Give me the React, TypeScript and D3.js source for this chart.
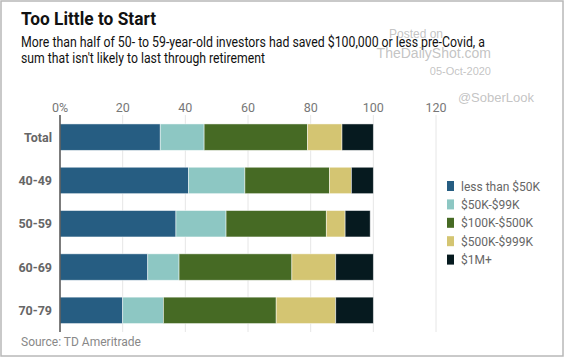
import React from "react";
import * as d3 from "d3";

const categories = ["Total", "40-49", "50-59", "60-69", "70-79"];
const seriesNames = ["less than $50K", "$50K-$99K", "$100K-$500K", "$500K-$999K", "$1M+"];
const lessThan50K = [32, 41, 37, 28, 20];
const k50to99 = [14, 18, 16, 10, 13];
const k100to500 = [33, 27, 32, 36, 36];
const k500to999 = [11, 7, 6, 14, 19];
const m1plus = [10, 7, 8, 12, 12];
const xTicks = [0, 20, 40, 60, 80, 100, 120];
const colors = ["#265d82", "#8dc7c3", "#466a24", "#d4c572", "#061a1f"];

const W = 564;
const H = 357;

export default function App() {
  const series = [lessThan50K, k50to99, k100to500, k500to999, m1plus];
  const rows = categories.map((c, i) => {
    const o: any = { cat: c };
    seriesNames.forEach((s, j) => (o[s] = series[j][i]));
    return o;
  });
  const stacked = d3.stack<any>().keys(seriesNames)(rows);
  const x = d3.scaleLinear().domain([0, 120]).range([60, 436]);
  const y = d3.scaleBand().domain(categories).range([115.5, 332]).paddingInner(0.39).paddingOuter(0.195);
  const font = "Roboto, 'Liberation Sans', sans-serif";
  return (
    <svg width={W} height={H} style={{ position: "absolute", left: 0, top: 0 }}>
      <rect x={0} y={0} width={W} height={H} fill="#fff" />
      <rect x={1} y={1} width={W - 2} height={H - 2} fill="none" stroke="#b8b8b8" strokeWidth={1.5} />
      <text x={21} y={25} fontFamily={font} fontWeight={700} fontSize={19} fill="#111" textLength={135} lengthAdjust="spacingAndGlyphs">Too Little to Start</text>
      <text x={21} y={46.5} fontFamily={font} fontSize={13.8} fill="#111" textLength={464} lengthAdjust="spacingAndGlyphs">More than half of 50- to 59-year-old investors had saved $100,000 or less pre-Covid, a</text>
      <text x={21} y={63} fontFamily={font} fontSize={13.8} fill="#111" textLength={244} lengthAdjust="spacingAndGlyphs">sum that isn't likely to last through retirement</text>
      <g fontFamily="'Liberation Sans', Arial, sans-serif" fill="#bdbdbd" fillOpacity={0.9} textAnchor="end">
        <text x={443} y={38} fontSize={12}>Posted on</text>
        <text x={491} y={58} fontSize={14}>TheDailyShot.com</text>
        <text x={491} y={75} fontSize={11}>05-Oct-2020</text>
        <text x={534} y={102} fontSize={13}>@SoberLook</text>
      </g>
      {xTicks.map((t) => (
        <g key={t}>
          <line x1={x(t)} x2={x(t)} y1={115} y2={332} stroke="#e6e6e6" strokeWidth={1} />
          <text x={x(t)} y={112} textAnchor="middle" fontFamily={font} fontSize={12.5} fill="#777">
            {t === 0 ? "0%" : t}
          </text>
        </g>
      ))}
      {stacked.map((s, j) => (
        <g key={s.key} fill={colors[j]}>
          {s.map((d, i) => (
            <rect
              key={i}
              x={x(d[0])}
              y={y(categories[i])}
              width={x(d[1]) - x(d[0])}
              height={y.bandwidth()}
              stroke="#ffffff"
              strokeOpacity={0.6}
              strokeWidth={0.8}
            />
          ))}
        </g>
      ))}
      <line x1={60} x2={60} y1={115} y2={332} stroke="#555" strokeWidth={1.5} />
      {categories.map((c) => (
        <text key={c} x={52} y={(y(c) as number) + y.bandwidth() / 2 + 4.5} textAnchor="end" fontFamily={font} fontWeight={700} fontSize={12.5} fill="#666">
          {c}
        </text>
      ))}
      {seriesNames.map((s, j) => (
        <g key={s} transform={`translate(447, ${181 + j * 18.4})`}>
          <rect x={0} y={0} width={7} height={10} fill={colors[j]} />
          <text x={14} y={9.5} fontFamily={font} fontSize={12} fill="#666">{s}</text>
        </g>
      ))}
      <text x={21} y={346} fontFamily={font} fontSize={12} fill="#888">Source: TD Ameritrade</text>
    </svg>
  );
}
